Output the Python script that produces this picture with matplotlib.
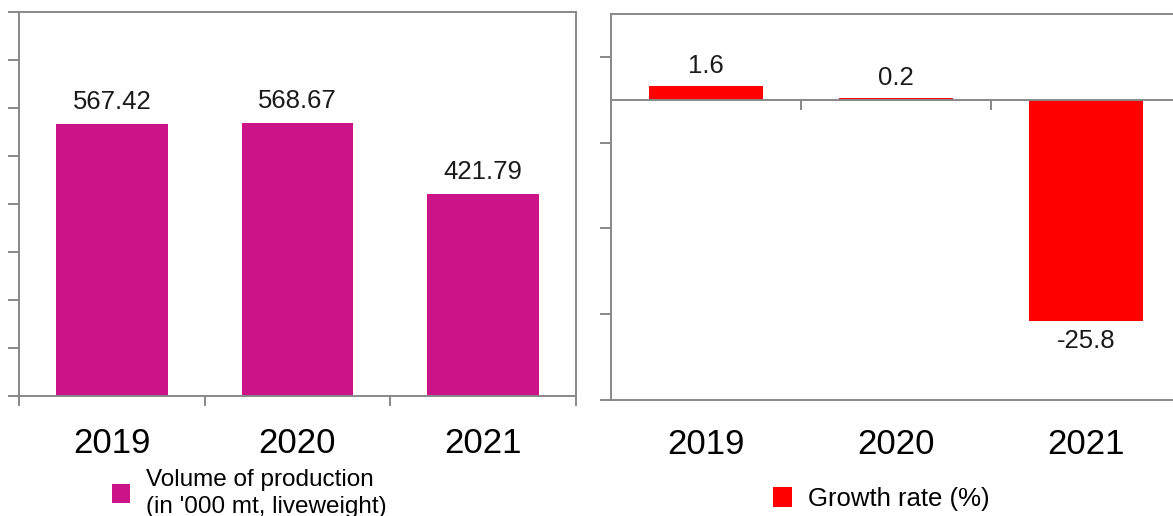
import matplotlib
matplotlib.use("Agg")
import matplotlib.pyplot as plt
from matplotlib.ticker import FixedLocator, NullFormatter

plt.rcParams['font.family'] = ['Liberation Sans', 'DejaVu Sans']

years = ["2019", "2020", "2021"]
volume = [567.42, 568.67, 421.79]
growth = [1.6, 0.2, -25.8]
volume_label = "Volume of production\n(in '000 mt, liveweight)"
growth_label = "Growth rate (%)"

MAGENTA = "#CC1488"
RED = "#FF0000"
GRAY = "#888888"
W, H = 1173, 516

fig = plt.figure(figsize=(W / 100, H / 100), dpi=100)

def px(l, t, r, b):
    return [l / W, (H - b) / H, (r - l) / W, (b - t) / H]

x = list(range(len(years)))

# ---------- left chart ----------
ax1 = fig.add_axes(px(19, 12, 576, 396))
bars1 = ax1.bar(x, volume, width=0.6, color=MAGENTA, label=volume_label, zorder=2)
ax1.set_xlim(-0.5, 2.5)
ax1.set_ylim(0, 800)
ax1.yaxis.set_major_locator(FixedLocator([0, 100, 200, 300, 400, 500, 600, 700, 800]))
ax1.yaxis.set_major_formatter(NullFormatter())
ax1.set_xticks(x)
ax1.set_xticklabels(years, fontsize=25)
ax1.tick_params(axis='x', which='major', length=0, pad=22)
ax1.xaxis.set_minor_locator(FixedLocator([-0.5, 0.5, 1.5, 2.5]))
ax1.tick_params(axis='x', which='minor', length=7, width=1.4, color=GRAY, direction='out')
ax1.tick_params(axis='y', length=8, width=1.4, color=GRAY, direction='out')
for s in ax1.spines.values():
    s.set_color(GRAY)
    s.set_linewidth(1.4)
ax1.bar_label(bars1, labels=[f"{v:.2f}" for v in volume], padding=7, fontsize=18.5, color="#1a1a1a")
leg1 = ax1.legend(handles=[bars1], loc='upper left', bbox_to_anchor=(100 / W, (H - 457) / H),
                  bbox_transform=fig.transFigure, frameon=False, fontsize=17.5,
                  handlelength=0.75, handleheight=0.8, handletextpad=0.65, borderpad=0,
                  labelspacing=0.1)
for t in leg1.get_texts():
    t.set_linespacing(1.3)

# ---------- right chart ----------
ax2 = fig.add_axes(px(611, 14, 1181, 400))
bars2 = ax2.bar(x, growth, width=0.6, color=RED, label=growth_label, zorder=2)
ax2.set_xlim(-0.5, 2.5)
ax2.set_ylim(-35, 10)
ax2.yaxis.set_major_locator(FixedLocator([5, -5, -15, -25, -35]))
ax2.yaxis.set_major_formatter(NullFormatter())
ax2.tick_params(axis='y', length=8, width=1.4, color=GRAY, direction='out')
ax2.spines['bottom'].set_position(('data', 0))
ax2.set_xticks([])
ax2.xaxis.set_minor_locator(FixedLocator([-0.5, 0.5, 1.5, 2.5]))
ax2.xaxis.set_minor_formatter(NullFormatter())
ax2.tick_params(axis='x', which='minor', length=7, width=1.4, color=GRAY, direction='out')
for s in ax2.spines.values():
    s.set_color(GRAY)
    s.set_linewidth(1.4)
ax2.spines['bottom'].set_zorder(3)
sec = ax2.secondary_xaxis('bottom')
sec.set_xticks(x)
sec.set_xticklabels(years, fontsize=25)
sec.tick_params(axis='x', length=0, pad=20)
sec.spines['bottom'].set_color(GRAY)
sec.spines['bottom'].set_linewidth(1.4)
ax2.bar_label(bars2, labels=[f"{v:.1f}" for v in growth], padding=6, fontsize=18.5, color="#1a1a1a")
ax2.legend(handles=[bars2], loc='upper left', bbox_to_anchor=(760 / W, (H - 474) / H),
           bbox_transform=fig.transFigure, frameon=False, fontsize=18.5,
           handlelength=0.75, handleheight=0.8, handletextpad=0.6, borderpad=0)

fig.savefig("out.png", dpi=100)
